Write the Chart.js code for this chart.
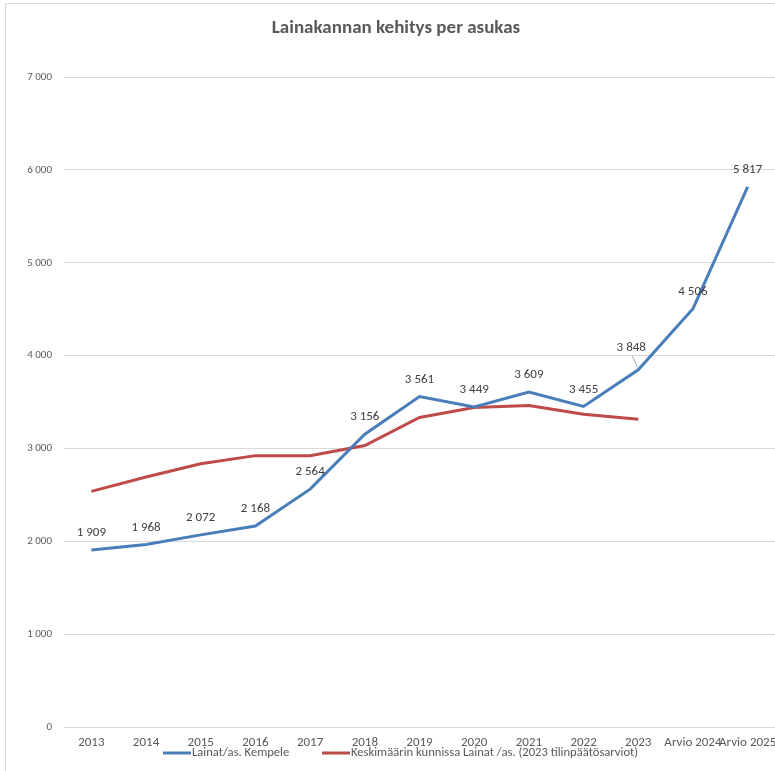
<!DOCTYPE html>
<html>
<head>
<meta charset="utf-8">
<script src="https://cdn.jsdelivr.net/npm/chart.js@4.4.1/dist/chart.umd.min.js"></script>
<style>
  html, body { margin: 0; padding: 0; background: #fff; }
  #wrap { width: 775px; height: 771px; overflow: hidden; }
</style>
</head>
<body>
<div id="wrap"><canvas id="chart" width="775" height="771"></canvas></div>
<script>
const years = ['2013', '2014', '2015', '2016', '2017', '2018', '2019', '2020', '2021', '2022', '2023', 'Arvio 2024', 'Arvio 2025'];
const kempele = [1909, 1968, 2072, 2168, 2564, 3156, 3561, 3449, 3609, 3455, 3848, 4506, 5817];
// average of municipalities (no labels in the original)
const average = [2540, 2695, 2838, 2925, 2925, 3033, 3335, 3443, 3465, 3371, 3317, null, null];
const yTicks = [0, 1000, 2000, 3000, 4000, 5000, 6000, 7000];

const fmt = v => String(v).replace(/\B(?=(\d{3})+(?!\d))/g, ' ');
const textColor = '#595959';
const font = 'Carlito, "Liberation Sans Narrow", "Open Sans", sans-serif';

// draws the number above each point of the first series
const pointLabels = {
  id: 'pointLabels',
  afterDatasetsDraw(chart) {
    const ctx = chart.ctx;
    const meta = chart.getDatasetMeta(0);
    ctx.save();
    ctx.fillStyle = '#404040';
    ctx.font = '13px ' + font;
    ctx.textAlign = 'center';
    ctx.textBaseline = 'middle';
    meta.data.forEach((pt, i) => {
      let lx = pt.x, ly = pt.y - 17;
      if (i === 10) {
        // this one sits up and left with a leader line
        lx = pt.x - 7; ly = pt.y - 22;
        ctx.strokeStyle = '#a6a6a6';
        ctx.lineWidth = 1;
        ctx.beginPath();
        ctx.moveTo(pt.x - 6, ly + 8);
        ctx.lineTo(pt.x - 1, pt.y - 3);
        ctx.stroke();
      }
      ctx.fillText(fmt(kempele[i]), lx, ly);
    });
    ctx.restore();
  }
};

// frame round the chart, the title and the legend under the x labels
const frameAndLegend = {
  id: 'frameAndLegend',
  beforeDraw(chart) {
    const ctx = chart.ctx;
    ctx.save();
    ctx.strokeStyle = '#d9d9d9';
    ctx.lineWidth = 1;
    ctx.strokeRect(5.5, 3.5, chart.width + 10, chart.height + 10);
    ctx.restore();
  },
  afterDraw(chart) {
    const ctx = chart.ctx;
    ctx.save();
    ctx.fillStyle = textColor;
    ctx.font = 'bold 19px ' + font;
    ctx.textAlign = 'center';
    ctx.textBaseline = 'middle';
    ctx.fillText('Lainakannan kehitys per asukas', 396, 28);

    const items = [
      { x: 163, ds: chart.data.datasets[0] },
      { x: 322, ds: chart.data.datasets[1] }
    ];
    ctx.font = '12.6px ' + font;
    ctx.textAlign = 'left';
    items.forEach(it => {
      ctx.strokeStyle = it.ds.borderColor;
      ctx.lineWidth = 3;
      ctx.beginPath();
      ctx.moveTo(it.x, 753);
      ctx.lineTo(it.x + 28, 753);
      ctx.stroke();
      ctx.fillStyle = textColor;
      ctx.fillText(it.ds.label, it.x + 29, 753);
    });
    ctx.restore();
  }
};

new Chart(document.getElementById('chart'), {
  type: 'line',
  data: {
    labels: years,
    datasets: [
      {
        label: 'Lainat/as. Kempele',
        data: kempele,
        borderColor: '#4a7ebb',
        backgroundColor: '#4a7ebb',
        borderWidth: 3,
        pointRadius: 0,
        tension: 0
      },
      {
        label: 'Keskimäärin kunnissa Lainat /as. (2023 tilinpäätösarviot)',
        data: average,
        borderColor: '#be4b48',
        backgroundColor: '#be4b48',
        borderWidth: 3,
        pointRadius: 0,
        tension: 0
      }
    ]
  },
  plugins: [pointLabels, frameAndLegend],
  options: {
    responsive: false,
    animation: false,
    layout: { padding: { left: 0, right: -3, top: 77, bottom: 12 } },
    plugins: {
      legend: { display: false },
      tooltip: { enabled: false },
      title: { display: false }
    },
    scales: {
      x: {
        offset: true,
        grid: { display: false, drawTicks: false },
        border: { display: false },
        afterFit(scale) { scale.paddingLeft = 0; scale.paddingRight = 0; },
        ticks: {
          color: textColor,
          font: { family: font, size: 13 },
          maxRotation: 0,
          autoSkip: false,
          padding: 8
        }
      },
      y: {
        min: 0,
        max: 7000,
        afterBuildTicks(scale) {
          scale.ticks = yTicks.map(v => ({ value: v }));
        },
        afterFit(scale) { scale.width = 64; },
        grid: { color: '#d9d9d9', drawTicks: false },
        border: { display: false },
        ticks: {
          color: textColor,
          font: { family: font, size: 11 },
          padding: 12,
          callback: v => fmt(v)
        }
      }
    }
  }
});
</script>
</body>
</html>
